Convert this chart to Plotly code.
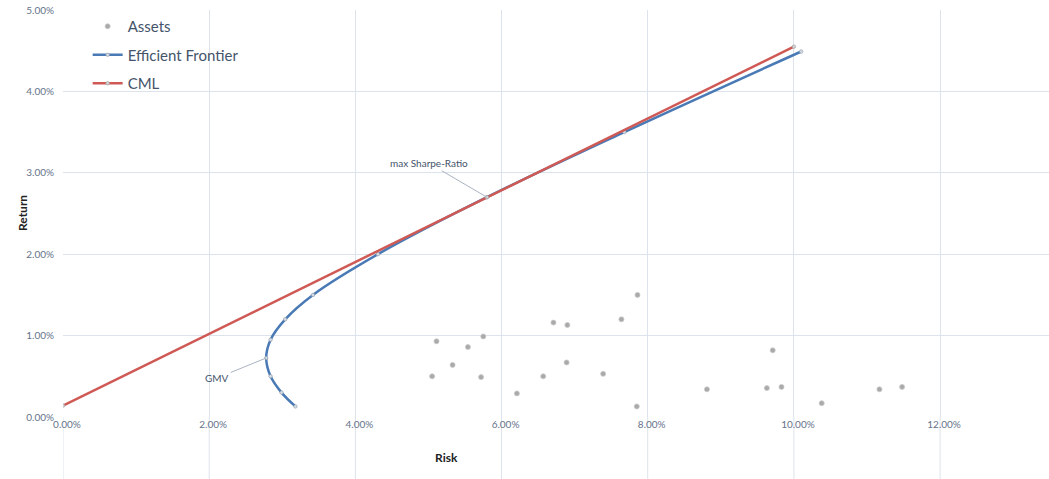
import plotly.graph_objects as go

# ---- data (percent values) ----
asset_risk = [5.11, 5.05, 5.33, 5.54, 5.72, 5.75, 6.21, 6.57, 6.71, 6.89, 6.90,
              7.39, 7.64, 7.86, 7.85, 8.81, 9.63, 9.71, 9.83, 10.38, 11.17, 11.48]
asset_ret = [0.93, 0.50, 0.64, 0.86, 0.49, 0.99, 0.29, 0.50, 1.16, 0.67, 1.13,
             0.53, 1.20, 1.50, 0.13, 0.34, 0.355, 0.82, 0.37, 0.17, 0.34, 0.37]

ef_risk = [3.18, 2.99, 2.84, 2.78, 2.84, 3.04, 3.42, 4.31, 5.80, 7.68, 10.10]
ef_ret = [0.13, 0.30, 0.50, 0.725, 0.95, 1.20, 1.50, 2.00, 2.70, 3.50, 4.49]

cml_risk = [0.00, 5.80, 10.00]
cml_ret = [0.14, 2.70, 4.55]

gmv_point = (2.78, 0.725)
sharpe_point = (5.80, 2.70)

x_ticks = [0, 2, 4, 6, 8, 10, 12]
y_ticks = [0, 1, 2, 3, 4, 5]

pct = lambda v: [a / 100 for a in v]

GRID = "#dde3ec"
TICK = "#66738a"
FONT = "Lato"

fig = go.Figure()

fig.add_trace(go.Scatter(
    x=pct(asset_risk), y=pct(asset_ret), mode="markers", name="Assets",
    legendgroup="a",
    marker=dict(size=5, color="#a9a9a9", line=dict(color="#c8c8c8", width=0.8)),
))
fig.add_trace(go.Scatter(
    x=pct(ef_risk), y=pct(ef_ret), mode="lines+markers", name="Efficient Frontier",
    legendgroup="b",
    line=dict(color="#4a7ab5", width=2.5, shape="spline", smoothing=1.0),
    marker=dict(size=3.5, color="#d5dbe3", line=dict(color="#8d9aab", width=0.6)),
))
fig.add_trace(go.Scatter(
    x=pct(cml_risk), y=pct(cml_ret), mode="lines+markers", name="CML",
    legendgroup="c",
    line=dict(color="#cf5a55", width=2.5),
    marker=dict(size=3.5, color="#d5d5d5", line=dict(color="#999999", width=0.6)),
))

# gridlines continuing below the plot area (as in the reference)
for t in x_ticks:
    fig.add_shape(type="line", xref="x", yref="paper", x0=t / 100, x1=t / 100,
                  y0=-0.16, y1=0, line=dict(color=GRID, width=1), layer="below")

fig.add_annotation(x=sharpe_point[0] / 100, y=sharpe_point[1] / 100, text="max Sharpe-Ratio",
                   showarrow=True, arrowhead=0, arrowwidth=1, arrowcolor="#aab4c2",
                   ax=-58, ay=-34, font=dict(family=FONT, size=10, color="#44546a"))
fig.add_annotation(x=gmv_point[0] / 100, y=gmv_point[1] / 100, text="GMV",
                   showarrow=True, arrowhead=0, arrowwidth=1, arrowcolor="#aab4c2",
                   ax=-49, ay=20, font=dict(family=FONT, size=10, color="#44546a"))

fig.add_annotation(x=0.0525, y=-0.1007, xref="x", yref="paper", text="<b>Risk</b>",
                   yanchor="middle", showarrow=False,
                   font=dict(family=FONT, size=12, color="#222222"))
fig.add_annotation(x=-0.0507, y=0.5, xref="paper", yref="paper", text="<b>Return</b>",
                   textangle=-90, showarrow=False,
                   font=dict(family=FONT, size=12, color="#222222"))

fig.update_layout(
    width=1049, height=479,
    margin=dict(l=63, r=0, t=10, b=62, autoexpand=False),
    paper_bgcolor="white", plot_bgcolor="white",
    font=dict(family=FONT, color=TICK),
    legend=dict(x=0.025, y=1.0, xanchor="left", yanchor="top",
                font=dict(family=FONT, size=15, color="#44546a"),
                bgcolor="rgba(0,0,0,0)", traceorder="grouped", tracegroupgap=6),
    xaxis=dict(range=[0, 0.1349], tickvals=[t / 100 for t in x_ticks], tickformat=".2%",
               showgrid=True, gridcolor=GRID, zeroline=False, showline=False,
               automargin=False, ticklabeloverflow="allow",
               tickfont=dict(family=FONT, size=10, color=TICK), ticklabelshift=4),
    yaxis=dict(range=[0, 0.05], tickvals=[t / 100 for t in y_ticks], tickformat=".2%",
               showgrid=True, gridcolor=GRID, zeroline=False, showline=False,
               automargin=False, ticklabeloverflow="allow",
               tickfont=dict(family=FONT, size=10, color=TICK), ticklabelstandoff=8),
)

# remove the default 8px page margin so the figure fills the window exactly
fig.write_html("out.html", config={"displayModeBar": False},
               post_script="document.body.style.margin='0';")
